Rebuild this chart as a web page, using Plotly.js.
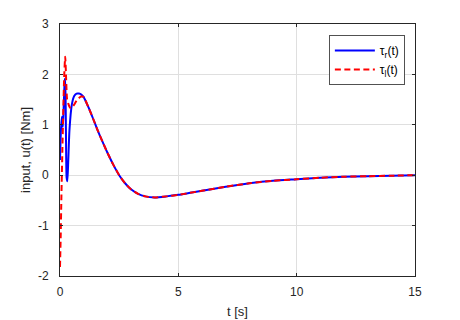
<!DOCTYPE html>
<html>
<head>
<meta charset="utf-8">
<script src="https://cdn.plot.ly/plotly-3.0.1.min.js"></script>
<style>html,body{margin:0;padding:0;background:#fff;}#plot{width:460px;height:320px;}</style>
</head>
<body>
<div id="plot"></div>
<script>
var tR = [0, 0.04, 0.08, 0.12, 0.16, 0.2, 0.22, 0.25, 0.28, 0.31, 0.35, 0.4, 0.5, 0.6, 0.7, 0.8, 0.9, 1.0, 1.2, 1.4, 1.6, 1.8, 2.0, 2.25, 2.5, 2.75, 3.0, 3.3, 3.6, 4.0, 4.5, 5, 5.5, 6, 7, 8, 9, 10, 11, 12, 13, 14, 15];
var tauR = [0.30, 0.9, 1.16, 0.96, 1.4, 1.88, 1.92, 0.9, -0.05, -0.12, 0.3, 0.9, 1.4, 1.57, 1.62, 1.62, 1.6, 1.55, 1.35, 1.12, 0.88, 0.66, 0.45, 0.21, 0.0, -0.16, -0.28, -0.37, -0.42, -0.44, -0.42, -0.39, -0.35, -0.31, -0.23, -0.16, -0.11, -0.08, -0.05, -0.03, -0.02, -0.01, 0.0];
var tL = [0, 0.03, 0.06, 0.1, 0.14, 0.18, 0.22, 0.26, 0.3, 0.35, 0.4, 0.45, 0.5, 0.6, 0.7, 0.8, 0.9, 1.0, 1.2, 1.4, 1.6, 1.8, 2.0, 2.25, 2.5, 2.75, 3.0, 3.3, 3.6, 4.0, 4.5, 5, 5.5, 6, 7, 8, 9, 10, 11, 12, 13, 14, 15];
var tauL = [-1.82, -1.2, -0.4, 0.5, 1.3, 2.0, 2.35, 1.9, 1.5, 1.42, 1.36, 1.33, 1.34, 1.4, 1.48, 1.53, 1.56, 1.55, 1.35, 1.12, 0.88, 0.66, 0.45, 0.21, 0.0, -0.16, -0.28, -0.37, -0.42, -0.44, -0.42, -0.39, -0.35, -0.31, -0.23, -0.16, -0.11, -0.08, -0.05, -0.03, -0.02, -0.01, 0.0];
var xTicks = [0, 5, 10, 15];
var yTicks = [-2, -1, 0, 1, 2, 3];

var font = 'Liberation Sans, Arial, Helvetica, sans-serif';
var traces = [
  {x: tR, y: tauR, type: 'scatter', mode: 'lines', name: '\u03c4<sub>r</sub>(t)',
   line: {color: '#0000ff', width: 2, shape: 'spline', smoothing: 0.6}},
  {x: tL, y: tauL, type: 'scatter', mode: 'lines', name: '\u03c4<sub>l</sub>(t)',
   line: {color: '#ff0000', width: 2, dash: '6px,3.5px', shape: 'spline', smoothing: 0.6}}
];
var axisCommon = {
  showline: true, linecolor: '#262626', linewidth: 1, mirror: 'allticks',
  ticks: 'inside', ticklen: 3, tickcolor: '#262626', tickwidth: 1,
  showgrid: true, gridcolor: '#dfdfdf', gridwidth: 1, zeroline: false,
  tickfont: {family: font, size: 12, color: '#262626'}
};
var layout = {
  width: 460, height: 320,
  margin: {l: 60, r: 45, t: 24, b: 44},
  paper_bgcolor: '#fff', plot_bgcolor: '#fff',
  showlegend: true,
  legend: {x: 0.972, xanchor: 'right', y: 0.956, yanchor: 'top', bgcolor: '#fff',
           bordercolor: '#262626', borderwidth: 0.8, itemwidth: 40,
           traceorder: 'normal',
           font: {family: font, size: 12, color: '#000'}},
  xaxis: Object.assign({}, axisCommon, {range: [0, 15], tickvals: xTicks, ticktext: xTicks.map(String),
    ticklabelstandoff: 5,
    title: {text: 't [s]', font: {family: font, size: 13, color: '#262626'}, standoff: 8}}),
  yaxis: Object.assign({}, axisCommon, {range: [-2, 3], tickvals: yTicks, ticktext: yTicks.map(String),
    ticklabelstandoff: 8,
    title: {text: 'input, u(t) [Nm]', font: {family: font, size: 13, color: '#262626'}, standoff: 4}})
};
Plotly.newPlot('plot', traces, layout, {displayModeBar: false, staticPlot: true});
</script>
</body>
</html>
